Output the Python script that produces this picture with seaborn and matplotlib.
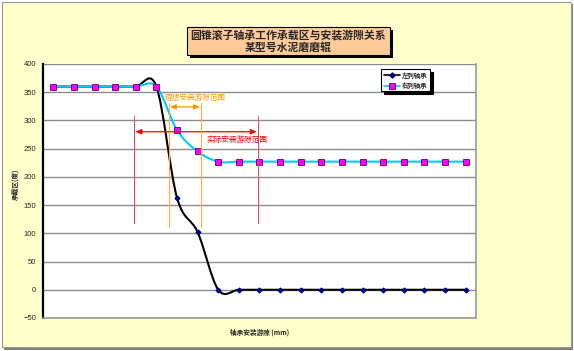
import numpy as np
import pandas as pd
import matplotlib
matplotlib.use("Agg")
import matplotlib.pyplot as plt
import seaborn as sns
from matplotlib.path import Path
from matplotlib.patches import PathPatch, Rectangle
from matplotlib.lines import Line2D

# ---------------- data ----------------
clearance_idx = list(range(21))
left_bearing = [360, 360, 360, 360, 360, 360, 163, 102, 0, 0, 0,
                0, 0, 0, 0, 0, 0, 0, 0, 0, 0]
right_bearing = [360, 360, 360, 360, 360, 360, 283, 245, 227, 227, 227,
                 227, 227, 227, 227, 227, 227, 227, 227, 227, 227]
series_names = ["左列轴承", "右列轴承"]
y_ticks = [-50, 0, 50, 100, 150, 200, 250, 300, 350, 400]
title_lines = ["圆锥滚子轴承工作承载区与安装游隙关系", "某型号水泥磨磨辊"]
x_label = "轴承安装游隙 (mm)"
y_label = "承载区(度)"
ideal_label = "理想安装游隙范围"
actual_label = "实际安装游隙范围"

sns.set_style("white")
plt.rcParams["font.family"] = ["Noto Sans CJK SC", "DejaVu Sans"]

W, H = 574, 351
fig = plt.figure(figsize=(W / 100, H / 100), dpi=100, facecolor="white")


def fx(px):
    return px / W


def fy(py):
    return 1 - py / H


def frect(x0, y0, x1, y1, **kw):
    # pixel rectangle (top-left x0,y0 ; bottom-right x1,y1) in figure coords
    return Rectangle((fx(x0), fy(y1)), fx(x1) - fx(x0), fy(y0) - fy(y1),
                     transform=fig.transFigure, **kw)


# outer frame (chart area) with shadow
fig.patches.append(frect(4, 4, 573, 349.5, facecolor="#808080", edgecolor="none", zorder=-3))
fig.patches.append(frect(2, 2, 571, 347, facecolor="#FFFFCC", edgecolor="#9a9a9a",
                         lw=0.8, zorder=-2))

ax = fig.add_axes([fx(43), fy(318), fx(476) - fx(43), fy(64) - fy(318)])
ax.set_facecolor("white")

df = pd.DataFrame({"x": clearance_idx, "left": left_bearing, "right": right_bearing})


def smooth_path(x, y):
    x = np.asarray(x, float)
    y = np.asarray(y, float)
    n = len(x)
    verts = [(x[0], y[0])]
    codes = [Path.MOVETO]
    for i in range(n - 1):
        xm, ym = (x[i - 1], y[i - 1]) if i > 0 else (x[i], y[i])
        xp, yp = (x[i + 2], y[i + 2]) if i + 2 < n else (x[i + 1], y[i + 1])
        c1 = (x[i] + (x[i + 1] - xm) / 6, y[i] + (y[i + 1] - ym) / 6)
        c2 = (x[i + 1] - (xp - x[i]) / 6, y[i + 1] - (yp - y[i]) / 6)
        verts += [c1, c2, (x[i + 1], y[i + 1])]
        codes += [Path.CURVE4] * 3
    return Path(verts, codes)


# left bearing (black smoothed line, navy diamonds)
ax.add_patch(PathPatch(smooth_path(df["x"], df["left"]), fill=False,
                       edgecolor="black", lw=1.5, zorder=3, capstyle="round"))
sns.lineplot(data=df, x="x", y="left", ax=ax, lw=0, marker="D", markersize=2.6,
             color="#000080", markeredgecolor="#000080", legend=False, zorder=3.5)

# right bearing (cyan smoothed line, magenta squares)
ax.add_patch(PathPatch(smooth_path(df["x"], df["right"]), fill=False,
                       edgecolor="#00CCFF", lw=1.5, zorder=4, capstyle="round"))
sns.lineplot(data=df, x="x", y="right", ax=ax, lw=0, marker="s", markersize=3.8,
             color="#FF00FF", markeredgecolor="#660066", markeredgewidth=0.6,
             legend=False, zorder=4.5)

ax.set_xlim(-0.5, 20.5)
ax.set_ylim(-50, 400)
ax.set_yticks(y_ticks)
ax.set_xticks([])
ax.set_xlabel("")
ax.set_ylabel("")
ax.grid(axis="y", color="#8c8c8c", lw=1.0)
ax.set_axisbelow(True)
for lab in ax.get_yticklabels():
    lab.set_fontfamily("Liberation Sans")
    lab.set_fontsize(5.5)
ax.tick_params(axis="y", direction="out", length=3, width=1, color="black", pad=2)
ax.spines["top"].set_visible(False)
ax.spines["left"].set_color("black")
ax.spines["left"].set_linewidth(1.6)
ax.spines["right"].set_color("#9a9a9a")
ax.spines["right"].set_linewidth(1.2)
ax.spines["bottom"].set_color("#9a9a9a")
ax.spines["bottom"].set_linewidth(1.2)

# annotations: actual range (red)
red = "#FF4040"
for xv in [3.92, 9.93]:
    ax.plot([xv, xv], [119, 307], color=red, lw=0.7, zorder=5)
ax.annotate("", xy=(3.98, 280), xytext=(9.87, 280),
            arrowprops=dict(arrowstyle="<|-|>,head_length=0.35,head_width=0.15",
                            color="#FF0000", lw=0.9, shrinkA=0, shrinkB=0), zorder=5)
ax.text(7.44, 266, actual_label, color="#FF0000", fontsize=5.5, ha="left",
        va="center", zorder=6)

# annotations: ideal range (orange)
orange = "#FFB040"
for xv in [5.62, 7.16]:
    ax.plot([xv, xv], [111, 331], color=orange, lw=0.8, zorder=5)
ax.annotate("", xy=(5.66, 324), xytext=(7.12, 324),
            arrowprops=dict(arrowstyle="<|-|>,head_length=0.35,head_width=0.15",
                            color="#FF9900", lw=0.9, shrinkA=0, shrinkB=0), zorder=5)
ax.text(5.4, 340, ideal_label, color="#FF9900", fontsize=5.5, ha="left",
        va="center", zorder=6)

# legend
handles = [
    Line2D([], [], color="black", lw=1.2, marker="D", markersize=2.6,
           markerfacecolor="#000080", markeredgecolor="#000080"),
    Line2D([], [], color="#00CCFF", lw=1.2, marker="s", markersize=3.8,
           markerfacecolor="#FF00FF", markeredgecolor="#660066", markeredgewidth=0.6),
]
leg = ax.legend(handles, series_names, loc="upper left",
                bbox_to_anchor=(fx(381), fy(69)), bbox_transform=fig.transFigure,
                prop={"size": 4.6, "weight": "bold"}, frameon=True, fancybox=False,
                shadow={"color": "black", "alpha": 1}, edgecolor="black",
                handlelength=2.6, handletextpad=0.3, borderpad=0.4,
                labelspacing=0.5, borderaxespad=0)
leg.get_frame().set_linewidth(0.8)
leg.set_zorder(10)

# title box with shadow
fig.patches.append(frect(190, 30, 393, 58, facecolor="black", edgecolor="none", zorder=1))
fig.patches.append(frect(187, 27, 390, 55, facecolor="#FFCC99", edgecolor="black",
                         lw=0.8, zorder=2))
fig.text(fx(288.5), fy(34.5), title_lines[0], ha="center", va="center",
         fontsize=7.8, fontweight="bold", zorder=3)
fig.text(fx(288.5), fy(48), title_lines[1], ha="center", va="center",
         fontsize=7.8, fontweight="bold", zorder=3)

# axis labels
fig.text(fx(260), fy(332.5), x_label, ha="center", va="center", fontsize=4.8,
         fontweight="bold")
fig.text(fx(15), fy(184), y_label, ha="center", va="center", rotation=90,
         fontsize=4.8, fontweight="bold")

fig.savefig("out.png", dpi=100, facecolor=fig.get_facecolor())
